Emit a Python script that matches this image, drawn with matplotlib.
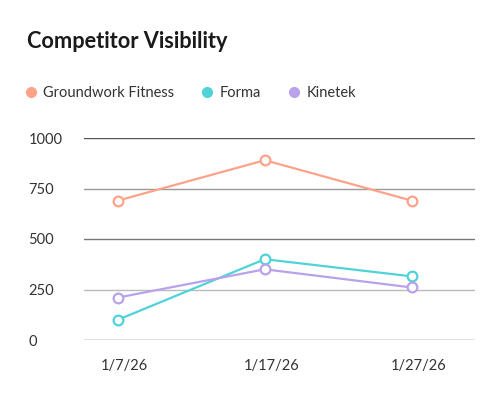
import matplotlib
matplotlib.use("Agg")
import matplotlib.pyplot as plt
from matplotlib.lines import Line2D
from matplotlib.transforms import ScaledTranslation

dates = ["1/7/26", "1/17/26", "1/27/26"]
series_names = ["Groundwork Fitness", "Forma", "Kinetek"]
groundwork = [690, 890, 690]
forma = [100, 400, 315]
kinetek = [210, 350, 260]
y_ticks = [0, 250, 500, 750, 1000]
colors = ["#FFA28A", "#4FD3D8", "#B9A2EB"]

plt.rcParams['font.family'] = ['Lato', 'DejaVu Sans']

fig = plt.figure(figsize=(5, 4), dpi=100)
ax = fig.add_axes([0.168, 0.15, 0.782, 0.505])

x = list(range(len(dates)))
for vals, c in zip([groundwork, forma, kinetek], colors):
    ax.plot(x, vals, color=c, lw=1.6, marker='o', ms=7, mfc='white',
            mec=c, mew=1.6, zorder=3, solid_capstyle='round')

ax.set_xlim(-0.23, 2.43)
ax.set_ylim(0, 1000)
ax.set_yticks(y_ticks)
ax.set_yticklabels([str(v) for v in y_ticks])
ax.set_xticks(x)
ax.set_xticklabels(dates)

grid_colors = ["#666666", "#bbbbbb", "#777777", "#999999", "#555555"]
for v, gc in zip(y_ticks, grid_colors):
    ax.axhline(v, color=gc, lw=1.0, zorder=1)

for s in ax.spines.values():
    s.set_visible(False)
ax.tick_params(axis='both', length=0, labelsize=10.5, colors='#333333')
ax.tick_params(axis='y', pad=40)
for lab in ax.get_yticklabels():
    lab.set_horizontalalignment('left')
ax.tick_params(axis='x', pad=14)
off = ScaledTranslation(7/100, 0, fig.dpi_scale_trans)
for lab in ax.get_xticklabels():
    lab.set_transform(lab.get_transform() + off)

fig.text(27/500, 1 - 42/400, "Competitor Visibility", fontsize=15.7,
         fontweight='bold', color='#1a1a1a', va='center', ha='left')

handles = [Line2D([], [], ls='none', marker='o', ms=7, color=c) for c in colors]
fig.legend(handles, series_names, loc='center left',
           bbox_to_anchor=(12/500, 1 - 93/400), ncol=3, frameon=False,
           fontsize=10.5, handlelength=0.8, handletextpad=0.45,
           columnspacing=1.85, labelcolor='#333333')

fig.savefig("out.png", dpi=100, facecolor='white')
